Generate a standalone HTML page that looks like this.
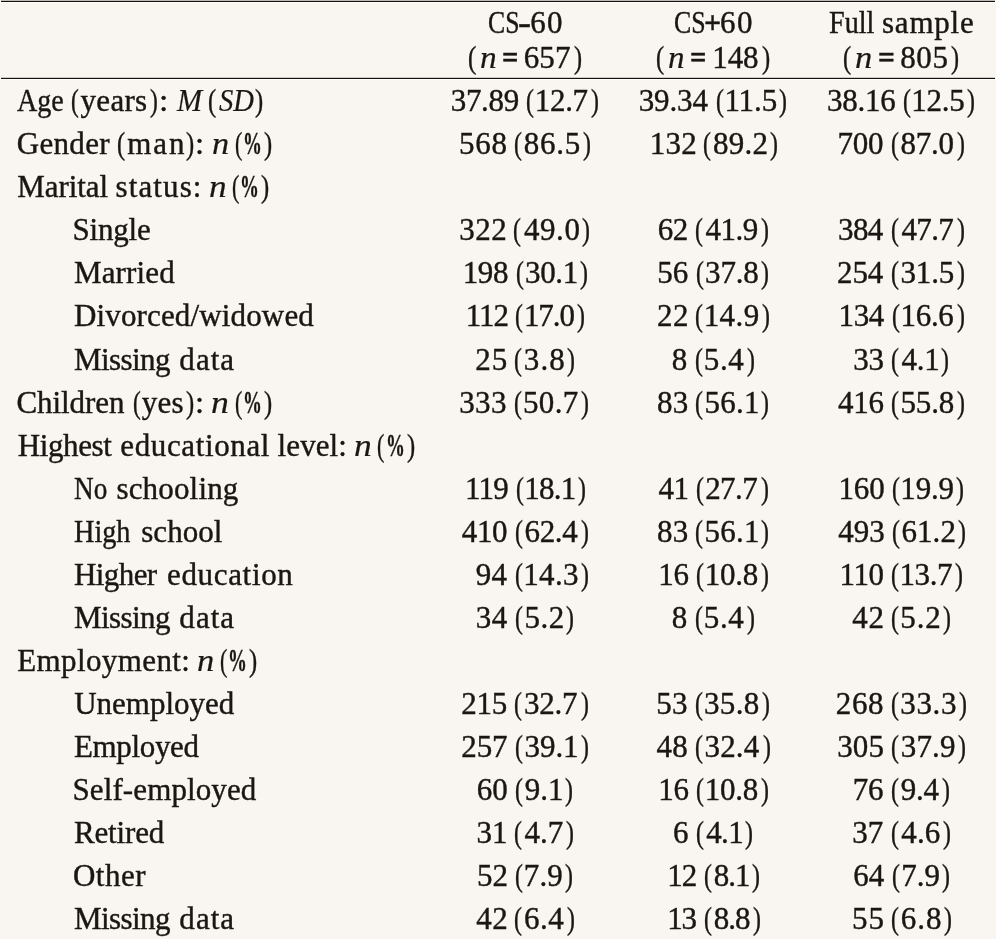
<!DOCTYPE html>
<html><head><meta charset="utf-8"><title>Table</title>
<style>
html,body{margin:0;padding:0;}
body{width:996px;height:939px;background:#f9f5f1;position:relative;overflow:hidden;}
.r{position:absolute;left:0;width:996px;height:40px;white-space:nowrap;font-family:"Liberation Serif",serif;font-size:31px;line-height:40px;color:#1a1613;-webkit-text-stroke:0.4px #1a1613;}
.r span{display:inline-block;position:relative;transform-origin:0 0;}
.r i{font-style:italic;-webkit-text-stroke-width:0.2px;}
.r b{font-weight:bold;}
.hl{position:absolute;left:1px;width:994px;height:1px;}
</style></head><body>
<div class="hl" style="top:0;background:#bdbab7"></div>
<div class="hl" style="top:1px;background:#15110e"></div>
<div class="hl" style="top:77px;background:#cfcbc7"></div>
<div class="hl" style="top:78px;background:#15110e"></div>
<div class="hl" style="top:2px;background:#fffefc"></div>
<div class="hl" style="top:79px;background:#fffefc"></div>
<div id="t">
<div class="r" style="top:3px"><span style="left:487.82px;transform:scaleX(0.830)">CS</span><span style="left:480.41px;transform:scaleX(1.260)"><b>-</b></span><span style="left:481.93px;letter-spacing:1.257px">60</span> <span style="left:584.30px;transform:scaleX(0.833)">CS</span><span style="left:576.94px;transform:scaleX(0.972)"><b>+</b></span><span style="left:574.87px;letter-spacing:1.457px">60</span> <span style="left:642.35px;transform:scaleX(0.907)">Full</span> <span style="left:637.52px;letter-spacing:0.777px">sample</span></div>
<div class="r" style="top:38px"><span style="left:468.41px;transform:scaleX(0.801)">(</span><span style="left:469.22px;transform:scaleX(1.075)"><i>n</i></span> <span style="left:468.21px;transform:scaleX(0.929)"><b>=</b></span> <span style="left:464.78px;letter-spacing:0.064px">657</span><span style="left:468.18px;transform:scaleX(0.779)">)</span> <span style="left:532.64px;transform:scaleX(0.789)">(</span><span style="left:533.65px;transform:scaleX(1.067)"><i>n</i></span> <span style="left:532.73px;transform:scaleX(0.929)"><b>=</b></span> <span style="left:529.58px;letter-spacing:-0.151px">148</span><span style="left:533.13px;transform:scaleX(0.791)">)</span> <span style="left:596.50px;transform:scaleX(0.789)">(</span><span style="left:597.85px;transform:scaleX(1.113)"><i>n</i></span> <span style="left:597.06px;transform:scaleX(0.956)"><b>=</b></span> <span style="left:594.32px;letter-spacing:0.612px">805</span><span style="left:596.41px;transform:scaleX(0.779)">)</span></div>
<div class="r" style="top:81px"><span style="left:16.65px;transform:scaleX(0.907)">Age</span> <span style="left:12.06px;transform:scaleX(0.753)">(</span><span style="left:10.83px;letter-spacing:0.296px">years</span><span style="left:13.77px;transform:scaleX(0.755)">)</span><span style="left:12.12px;transform:scaleX(1.085)">:</span> <span style="left:13.47px;transform:scaleX(0.974)"><i>M</i></span> <span style="left:11.32px;transform:scaleX(0.789)">(</span><span style="left:12.07px;transform:scaleX(0.923)"><i>SD</i></span><span style="left:9.85px;transform:scaleX(0.791)">)</span> <span style="left:187.48px;letter-spacing:-0.290px">37.89</span> <span style="left:187.07px;transform:scaleX(0.765)">(</span><span style="left:185.15px;letter-spacing:-0.290px">12.7</span><span style="left:188.40px;transform:scaleX(0.767)">)</span> <span style="left:217.92px;letter-spacing:-0.105px">39.34</span> <span style="left:218.23px;transform:scaleX(0.765)">(</span><span style="left:216.31px;letter-spacing:-0.105px">11.5</span><span style="left:218.72px;transform:scaleX(0.767)">)</span> <span style="left:248.04px;letter-spacing:-0.239px">38.16</span> <span style="left:247.77px;transform:scaleX(0.765)">(</span><span style="left:245.85px;letter-spacing:-0.239px">12.5</span><span style="left:248.61px;transform:scaleX(0.767)">)</span></div>
<div class="r" style="top:124px"><span style="left:16.72px;letter-spacing:0.322px">Gender</span> <span style="left:15.80px;transform:scaleX(0.789)">(</span><span style="left:15.97px;letter-spacing:1.961px">man</span><span style="left:15.56px;transform:scaleX(0.791)">)</span><span style="left:13.89px;transform:scaleX(1.059)">:</span> <span style="left:14.29px;transform:scaleX(1.105)"><i>n</i></span> <span style="left:14.16px;transform:scaleX(0.705)">(</span><span style="left:12.09px;transform:scaleX(0.608)"><b>%</b></span><span style="left:2.27px;transform:scaleX(0.791)">)</span> <span style="left:179.10px;letter-spacing:0.731px">568</span> <span style="left:177.81px;transform:scaleX(0.765)">(</span><span style="left:177.17px;letter-spacing:0.731px">86.5</span><span style="left:178.95px;transform:scaleX(0.767)">)</span> <span style="left:227.73px;letter-spacing:0.289px">132</span> <span style="left:226.24px;transform:scaleX(0.765)">(</span><span style="left:225.60px;letter-spacing:0.289px">89.2</span><span style="left:227.41px;transform:scaleX(0.767)">)</span> <span style="left:276.70px;letter-spacing:-0.226px">700</span> <span style="left:276.39px;transform:scaleX(0.765)">(</span><span style="left:275.75px;letter-spacing:-0.226px">87.0</span><span style="left:278.56px;transform:scaleX(0.767)">)</span></div>
<div class="r" style="top:167px"><span style="left:17.27px;letter-spacing:-0.083px">Marital</span> <span style="left:17.19px;letter-spacing:1.098px">status:</span> <span style="left:15.78px;transform:scaleX(1.136)"><i>n</i></span> <span style="left:15.68px;transform:scaleX(0.705)">(</span><span style="left:13.62px;transform:scaleX(0.608)"><b>%</b></span><span style="left:3.80px;transform:scaleX(0.791)">)</span></div>
<div class="r" style="top:210px"><span style="left:72.51px;letter-spacing:-0.201px">Single</span> <span style="left:373.41px;letter-spacing:0.585px">322</span> <span style="left:371.61px;transform:scaleX(0.765)">(</span><span style="left:371.76px;letter-spacing:0.585px">49.0</span><span style="left:373.77px;transform:scaleX(0.767)">)</span> <span style="left:430.88px;letter-spacing:-0.484px">62</span> <span style="left:430.34px;transform:scaleX(0.765)">(</span><span style="left:430.49px;letter-spacing:-0.484px">41.9</span><span style="left:433.44px;transform:scaleX(0.767)">)</span> <span style="left:492.76px;letter-spacing:-0.695px">384</span> <span style="left:493.58px;transform:scaleX(0.765)">(</span><span style="left:493.72px;letter-spacing:-0.695px">47.7</span><span style="left:497.38px;transform:scaleX(0.767)">)</span></div>
<div class="r" style="top:253px"><span style="left:73.97px;letter-spacing:0.151px">Married</span> <span style="left:354.00px;letter-spacing:-0.384px">198</span> <span style="left:353.82px;transform:scaleX(0.765)">(</span><span style="left:353.03px;letter-spacing:-0.384px">30.1</span><span style="left:355.38px;transform:scaleX(0.767)">)</span> <span style="left:414.48px;letter-spacing:-0.166px">56</span> <span style="left:414.26px;transform:scaleX(0.765)">(</span><span style="left:413.47px;letter-spacing:-0.166px">37.8</span><span style="left:416.16px;transform:scaleX(0.767)">)</span> <span style="left:473.80px;letter-spacing:-0.223px">254</span> <span style="left:474.15px;transform:scaleX(0.765)">(</span><span style="left:473.35px;letter-spacing:-0.223px">31.5</span><span style="left:476.10px;transform:scaleX(0.767)">)</span></div>
<div class="r" style="top:296px"><span style="left:73.97px;letter-spacing:0.150px">Divorced/widowed</span> <span style="left:217.99px;letter-spacing:-1.087px">112</span> <span style="left:217.89px;transform:scaleX(0.765)">(</span><span style="left:215.96px;letter-spacing:-1.087px">17.0</span><span style="left:219.65px;transform:scaleX(0.767)">)</span> <span style="left:281.09px;letter-spacing:0.475px">22</span> <span style="left:279.60px;transform:scaleX(0.765)">(</span><span style="left:277.68px;letter-spacing:0.475px">14.9</span><span style="left:279.68px;transform:scaleX(0.767)">)</span> <span style="left:338.37px;letter-spacing:-0.360px">134</span> <span style="left:338.86px;transform:scaleX(0.765)">(</span><span style="left:336.93px;letter-spacing:-0.360px">16.6</span><span style="left:340.19px;transform:scaleX(0.767)">)</span></div>
<div class="r" style="top:340px"><span style="left:73.97px;letter-spacing:-0.562px">Missing</span> <span style="left:75.64px;letter-spacing:1.039px">data</span> <span style="left:308.03px;letter-spacing:1.025px">25</span> <span style="left:306.23px;transform:scaleX(0.765)">(</span><span style="left:305.44px;letter-spacing:1.025px">3.8</span><span style="left:306.94px;transform:scaleX(0.767)">)</span> <span style="left:393.52px;letter-spacing:0.640px">8</span> <span style="left:392.32px;transform:scaleX(0.765)">(</span><span style="left:391.31px;letter-spacing:0.640px">5.4</span><span style="left:394.07px;transform:scaleX(0.767)">)</span> <span style="left:481.99px;letter-spacing:-0.237px">33</span> <span style="left:481.44px;transform:scaleX(0.765)">(</span><span style="left:481.59px;letter-spacing:-0.237px">4.1</span><span style="left:483.54px;transform:scaleX(0.767)">)</span></div>
<div class="r" style="top:383px"><span style="left:16.42px;letter-spacing:-0.058px">Children</span> <span style="left:16.89px;transform:scaleX(0.753)">(</span><span style="left:15.76px;letter-spacing:0.142px">yes</span><span style="left:17.81px;transform:scaleX(0.791)">)</span><span style="left:16.65px;transform:scaleX(1.059)">:</span> <span style="left:16.50px;transform:scaleX(1.151)"><i>n</i></span> <span style="left:16.92px;transform:scaleX(0.705)">(</span><span style="left:14.85px;transform:scaleX(0.608)"><b>%</b></span><span style="left:5.03px;transform:scaleX(0.791)">)</span> <span style="left:181.97px;letter-spacing:0.379px">333</span> <span style="left:181.01px;transform:scaleX(0.765)">(</span><span style="left:179.99px;letter-spacing:0.379px">50.7</span><span style="left:182.57px;transform:scaleX(0.767)">)</span> <span style="left:240.25px;letter-spacing:0.210px">83</span> <span style="left:239.25px;transform:scaleX(0.765)">(</span><span style="left:238.24px;letter-spacing:0.210px">56.1</span><span style="left:240.00px;transform:scaleX(0.767)">)</span> <span style="left:298.46px;letter-spacing:-0.237px">416</span> <span style="left:298.29px;transform:scaleX(0.765)">(</span><span style="left:297.27px;letter-spacing:-0.237px">55.8</span><span style="left:300.03px;transform:scaleX(0.767)">)</span></div>
<div class="r" style="top:426px"><span style="left:17.77px;letter-spacing:-0.406px">Highest</span> <span style="left:18.98px;letter-spacing:0.620px">educational</span> <span style="left:18.81px;letter-spacing:0.087px">level:</span> <span style="left:18.22px;transform:scaleX(1.143)"><i>n</i></span> <span style="left:18.23px;transform:scaleX(0.705)">(</span><span style="left:16.16px;transform:scaleX(0.608)"><b>%</b></span><span style="left:6.34px;transform:scaleX(0.791)">)</span></div>
<div class="r" style="top:469px"><span style="left:74.05px;transform:scaleX(0.878)">No</span> <span style="left:70.78px;letter-spacing:0.174px">schooling</span> <span style="left:289.44px;letter-spacing:-0.718px">119</span> <span style="left:289.35px;transform:scaleX(0.765)">(</span><span style="left:287.43px;letter-spacing:-0.718px">18.1</span><span style="left:290.10px;transform:scaleX(0.767)">)</span> <span style="left:352.26px;letter-spacing:-0.570px">41</span> <span style="left:351.63px;transform:scaleX(0.765)">(</span><span style="left:350.96px;letter-spacing:-0.570px">27.7</span><span style="left:354.49px;transform:scaleX(0.767)">)</span> <span style="left:414.28px;letter-spacing:-0.185px">160</span> <span style="left:413.92px;transform:scaleX(0.765)">(</span><span style="left:412.00px;letter-spacing:-0.185px">19.9</span><span style="left:414.66px;transform:scaleX(0.767)">)</span></div>
<div class="r" style="top:512px"><span style="left:74.02px;transform:scaleX(0.911)">High</span> <span style="left:71.47px;letter-spacing:0.046px">school</span> <span style="left:303.01px;letter-spacing:-0.312px">410</span> <span style="left:302.78px;transform:scaleX(0.765)">(</span><span style="left:302.08px;letter-spacing:-0.312px">62.4</span><span style="left:305.60px;transform:scaleX(0.767)">)</span> <span style="left:363.57px;letter-spacing:0.210px">83</span> <span style="left:362.58px;transform:scaleX(0.765)">(</span><span style="left:361.57px;letter-spacing:0.210px">56.1</span><span style="left:363.33px;transform:scaleX(0.767)">)</span> <span style="left:421.99px;letter-spacing:0.044px">493</span> <span style="left:421.36px;transform:scaleX(0.765)">(</span><span style="left:420.65px;letter-spacing:0.044px">61.2</span><span style="left:422.69px;transform:scaleX(0.767)">)</span></div>
<div class="r" style="top:555px"><span style="left:73.97px;letter-spacing:-0.576px">Higher</span> <span style="left:76.65px;letter-spacing:0.659px">education</span> <span style="left:251.10px;letter-spacing:0.317px">94</span> <span style="left:250.92px;transform:scaleX(0.765)">(</span><span style="left:248.99px;letter-spacing:0.317px">14.3</span><span style="left:251.16px;transform:scaleX(0.767)">)</span> <span style="left:310.45px;letter-spacing:-0.305px">16</span> <span style="left:310.38px;transform:scaleX(0.765)">(</span><span style="left:308.45px;letter-spacing:-0.305px">10.8</span><span style="left:311.28px;transform:scaleX(0.767)">)</span> <span style="left:372.07px;letter-spacing:-0.422px">110</span> <span style="left:371.80px;transform:scaleX(0.765)">(</span><span style="left:369.88px;letter-spacing:-0.422px">13.7</span><span style="left:373.27px;transform:scaleX(0.767)">)</span></div>
<div class="r" style="top:598px"><span style="left:73.97px;letter-spacing:-0.562px">Missing</span> <span style="left:75.64px;letter-spacing:1.039px">data</span> <span style="left:308.51px;letter-spacing:0.541px">34</span> <span style="left:308.09px;transform:scaleX(0.765)">(</span><span style="left:307.08px;letter-spacing:0.541px">5.2</span><span style="left:308.66px;transform:scaleX(0.767)">)</span> <span style="left:395.94px;letter-spacing:0.640px">8</span> <span style="left:394.75px;transform:scaleX(0.765)">(</span><span style="left:393.73px;letter-spacing:0.640px">5.4</span><span style="left:396.49px;transform:scaleX(0.767)">)</span> <span style="left:483.25px;letter-spacing:0.978px">42</span> <span style="left:481.25px;transform:scaleX(0.765)">(</span><span style="left:480.24px;letter-spacing:0.978px">5.2</span><span style="left:481.38px;transform:scaleX(0.767)">)</span></div>
<div class="r" style="top:641px"><span style="left:17.27px;letter-spacing:0.389px">Employment:</span> <span style="left:16.31px;transform:scaleX(1.113)"><i>n</i></span> <span style="left:15.98px;transform:scaleX(0.705)">(</span><span style="left:13.91px;transform:scaleX(0.608)"><b>%</b></span><span style="left:4.10px;transform:scaleX(0.791)">)</span></div>
<div class="r" style="top:684px"><span style="left:74.20px;letter-spacing:0.001px">Unemployed</span> <span style="left:293.31px;letter-spacing:-0.213px">215</span> <span style="left:292.95px;transform:scaleX(0.765)">(</span><span style="left:292.15px;letter-spacing:-0.213px">32.7</span><span style="left:295.32px;transform:scaleX(0.767)">)</span> <span style="left:352.93px;letter-spacing:0.309px">53</span> <span style="left:351.83px;transform:scaleX(0.765)">(</span><span style="left:351.03px;letter-spacing:0.309px">35.8</span><span style="left:353.24px;transform:scaleX(0.767)">)</span> <span style="left:409.19px;letter-spacing:0.639px">268</span> <span style="left:408.00px;transform:scaleX(0.765)">(</span><span style="left:407.20px;letter-spacing:0.639px">33.3</span><span style="left:409.05px;transform:scaleX(0.767)">)</span></div>
<div class="r" style="top:727px"><span style="left:73.97px;letter-spacing:-0.350px">Employed</span> <span style="left:328.84px;letter-spacing:-0.065px">257</span> <span style="left:328.59px;transform:scaleX(0.765)">(</span><span style="left:327.80px;letter-spacing:-0.065px">39.1</span><span style="left:329.82px;transform:scaleX(0.767)">)</span> <span style="left:387.78px;letter-spacing:0.240px">48</span> <span style="left:386.79px;transform:scaleX(0.765)">(</span><span style="left:385.99px;letter-spacing:0.240px">32.4</span><span style="left:388.96px;transform:scaleX(0.767)">)</span> <span style="left:445.48px;letter-spacing:0.170px">305</span> <span style="left:444.75px;transform:scaleX(0.765)">(</span><span style="left:443.95px;letter-spacing:0.170px">37.9</span><span style="left:446.26px;transform:scaleX(0.767)">)</span></div>
<div class="r" style="top:770px"><span style="left:72.51px;letter-spacing:0.109px">Self-employed</span> <span style="left:285.11px;letter-spacing:-0.002px">60</span> <span style="left:284.37px;transform:scaleX(0.765)">(</span><span style="left:284.07px;letter-spacing:-0.002px">9.1</span><span style="left:285.79px;transform:scaleX(0.767)">)</span> <span style="left:360.78px;letter-spacing:-0.305px">16</span> <span style="left:360.70px;transform:scaleX(0.765)">(</span><span style="left:358.78px;letter-spacing:-0.305px">10.8</span><span style="left:361.61px;transform:scaleX(0.767)">)</span> <span style="left:435.50px;letter-spacing:-0.238px">76</span> <span style="left:435.35px;transform:scaleX(0.765)">(</span><span style="left:435.05px;letter-spacing:-0.238px">9.4</span><span style="left:438.68px;transform:scaleX(0.767)">)</span></div>
<div class="r" style="top:813px"><span style="left:73.97px;letter-spacing:-0.143px">Retired</span> <span style="left:378.39px;letter-spacing:0.054px">31</span> <span style="left:377.14px;transform:scaleX(0.765)">(</span><span style="left:377.28px;letter-spacing:0.054px">4.7</span><span style="left:379.98px;transform:scaleX(0.767)">)</span> <span style="left:468.79px;letter-spacing:-0.692px">6</span> <span style="left:469.08px;transform:scaleX(0.765)">(</span><span style="left:469.22px;letter-spacing:-0.692px">4.1</span><span style="left:471.62px;transform:scaleX(0.767)">)</span> <span style="left:560.34px;letter-spacing:0.122px">37</span> <span style="left:560.00px;transform:scaleX(0.765)">(</span><span style="left:560.14px;letter-spacing:0.122px">4.6</span><span style="left:562.69px;transform:scaleX(0.767)">)</span></div>
<div class="r" style="top:856px"><span style="left:72.92px;letter-spacing:0.550px">Other</span> <span style="left:395.88px;letter-spacing:0.110px">52</span> <span style="left:394.74px;transform:scaleX(0.765)">(</span><span style="left:393.42px;letter-spacing:0.110px">7.9</span><span style="left:395.79px;transform:scaleX(0.767)">)</span> <span style="left:479.58px;letter-spacing:-0.922px">12</span> <span style="left:479.49px;transform:scaleX(0.765)">(</span><span style="left:478.85px;letter-spacing:-0.922px">8.1</span><span style="left:481.49px;transform:scaleX(0.767)">)</span> <span style="left:564.41px;letter-spacing:0.022px">64</span> <span style="left:564.52px;transform:scaleX(0.765)">(</span><span style="left:563.20px;letter-spacing:0.022px">7.9</span><span style="left:565.66px;transform:scaleX(0.767)">)</span></div>
<div class="r" style="top:899px"><span style="left:73.97px;letter-spacing:-0.562px">Missing</span> <span style="left:75.64px;letter-spacing:1.039px">data</span> <span style="left:308.85px;letter-spacing:0.516px">42</span> <span style="left:307.30px;transform:scaleX(0.765)">(</span><span style="left:306.60px;letter-spacing:0.516px">6.4</span><span style="left:309.47px;transform:scaleX(0.767)">)</span> <span style="left:391.36px;letter-spacing:-1.035px">13</span> <span style="left:391.61px;transform:scaleX(0.765)">(</span><span style="left:390.97px;letter-spacing:-1.035px">8.8</span><span style="left:394.52px;transform:scaleX(0.767)">)</span> <span style="left:475.42px;letter-spacing:1.042px">55</span> <span style="left:473.61px;transform:scaleX(0.765)">(</span><span style="left:472.91px;letter-spacing:1.042px">6.8</span><span style="left:474.38px;transform:scaleX(0.767)">)</span></div>
</div>
</body></html>
